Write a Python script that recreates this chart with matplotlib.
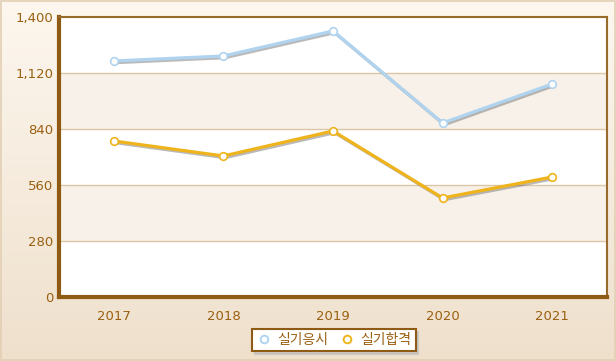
import matplotlib
matplotlib.use("Agg")
import matplotlib.pyplot as plt
import matplotlib.patheffects as pe
from matplotlib.lines import Line2D
import numpy as np

years = ["2017", "2018", "2019", "2020", "2021"]
apply_vals = [1180, 1205, 1330, 870, 1065]
pass_vals = [780, 705, 830, 495, 600]
yticks = [0, 280, 560, 840, 1120, 1400]
names = ["실기응시", "실기합격"]

plt.rcParams['font.family'] = ['DejaVu Sans', 'Noto Sans CJK KR']
W, H = 616, 361
fig = plt.figure(figsize=(W/100, H/100), dpi=100)

# background gradient (light top, darker bottom)
bg = fig.add_axes([0, 0, 1, 1])
grad = np.linspace(0, 1, 256).reshape(-1, 1)
c1 = np.array([0xfd, 0xf7, 0xef]) / 255
c2 = np.array([0xef, 0xe0, 0xcc]) / 255
img = c1 + (c2 - c1) * grad[..., None]
bg.imshow(img, aspect='auto', extent=[0, 1, 1, 0], origin='upper')
bg.set_xlim(0, 1); bg.set_ylim(1, 0)
bg.axis('off')
bg.add_patch(plt.Rectangle((0.002, 0.002), 0.996, 0.996, fill=False, ec='#e2cfb4', lw=1.2, transform=bg.transAxes))

ax = fig.add_axes([59/W, 1-297/H, (607-59)/W, (297-17)/H])
ax.set_facecolor('white')
x = np.arange(len(years))
ax.set_xlim(-0.5, len(years) - 0.5)
ax.set_ylim(0, 1400)

for i in range(len(yticks) - 1):
    if i % 2 == 1:
        ax.axhspan(yticks[i], yticks[i+1], color='#f8f1ea', zorder=0, lw=0)
for t in yticks[1:-1]:
    ax.axhline(t, color='#dcc6a6', lw=1, zorder=1)

shadow = [pe.SimpleLineShadow(offset=(1.2, -1.2), shadow_color='#666666', alpha=0.45), pe.Normal()]
colors = ['#b0d3ef', '#efb41c']
for vals, c, n in zip([apply_vals, pass_vals], colors, names):
    ax.plot(x, vals, color=c, lw=2.3, zorder=3, path_effects=shadow, solid_capstyle='round')
    ax.plot(x, vals, ls='none', marker='o', ms=5.5, mfc='white', mec=c, mew=1.2, zorder=4)

ax.set_xticks(x)
ax.set_xticklabels(years)
ax.set_yticks(yticks)
ax.set_yticklabels([f"{v:,}" for v in yticks])
ax.tick_params(length=0, colors='#9a6010', labelsize=9.5)
ax.tick_params(axis='x', pad=9)
ax.tick_params(axis='y', pad=4)
for s in ['top', 'right']:
    ax.spines[s].set_color('#9a6a2a'); ax.spines[s].set_linewidth(1.5)
for s in ['left', 'bottom']:
    ax.spines[s].set_color('#8e5a14'); ax.spines[s].set_linewidth(3)

handles = [Line2D([], [], ls='none', marker='o', ms=5.5, mfc='white', mec=colors[0], mew=1.4),
           Line2D([], [], ls='none', marker='o', ms=5.5, mfc='white', mec=colors[1], mew=1.4)]
leg = fig.legend(handles, names, loc='center', bbox_to_anchor=(334/W, 1-340/H), ncol=2,
                 frameon=True, fancybox=False, shadow={'color': '#bbbbbb', 'alpha': 0.6},
                 handletextpad=0.5, columnspacing=0.8, borderpad=0.3, handlelength=1.0,
                 prop={'family': ['Noto Sans CJK KR', 'DejaVu Sans'], 'size': 10})
leg.get_frame().set_edgecolor('#8e5a14')
leg.get_frame().set_linewidth(1.5)
for t in leg.get_texts():
    t.set_color('#9a6010')

fig.savefig('out.png', dpi=100)
